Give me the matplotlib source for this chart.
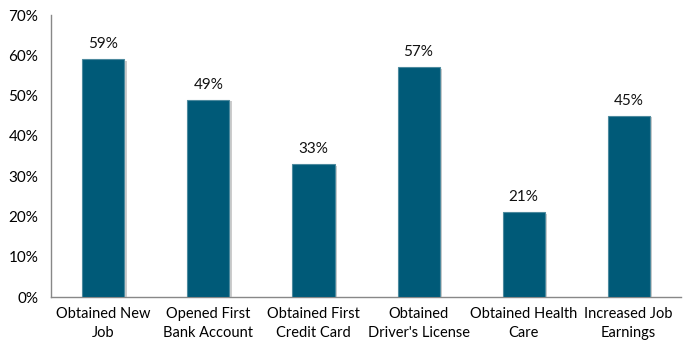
import matplotlib.pyplot as plt
import matplotlib.patheffects as pe
import numpy as np

categories = ["Obtained New\nJob", "Opened First\nBank Account", "Obtained First\nCredit Card",
              "Obtained\nDriver's License", "Obtained Health\nCare", "Increased Job\nEarnings"]
values = [59, 49, 33, 57, 21, 45]

plt.rcParams['font.family'] = ['Lato', 'DejaVu Sans']

fig = plt.figure(figsize=(6.88, 3.43), dpi=100)
ax = fig.add_axes([0.074, 0.134, 0.916, 0.822])

x = np.arange(len(categories))
bars = ax.bar(x, values, width=0.4, color='#005a78', edgecolor='#4d8a9e', linewidth=0.8, zorder=3)
for b in bars:
    b.set_path_effects([pe.SimplePatchShadow(offset=(2, -1), shadow_rgbFace='#aaaaaa', alpha=0.6), pe.Normal()])

for xi, v in zip(x, values):
    ax.text(xi, v + 2, f"{v}%", ha='center', va='bottom', fontsize=11, color='#111111')

ax.set_xlim(-0.5, len(categories) - 0.5)
ax.set_ylim(0, 70)
ax.set_yticks(range(0, 71, 10))
ax.set_yticklabels([f"{t}%" for t in range(0, 71, 10)], fontsize=11)
ax.set_xticks(x)
ax.set_xticklabels(categories, fontsize=10.5, linespacing=1.45)
ax.tick_params(length=0, pad=7)
ax.tick_params(axis='y', pad=9)

for s in ['top', 'right']:
    ax.spines[s].set_visible(False)
for s in ['left', 'bottom']:
    ax.spines[s].set_color('#888888')
    ax.spines[s].set_linewidth(1)

fig.savefig('out.png', dpi=100)
